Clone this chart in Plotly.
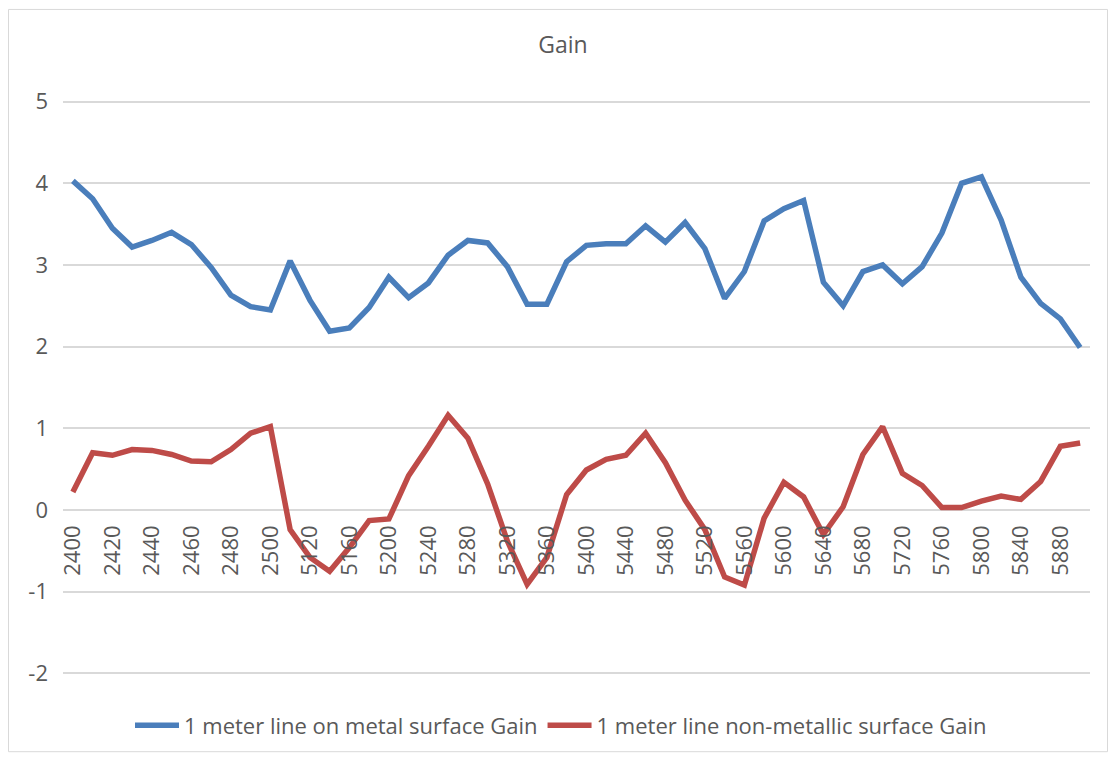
import plotly.graph_objects as go

categories = ["2400", "2410", "2420", "2430", "2440", "2450", "2460", "2470", "2480", "2490", "2500",
              "5100", "5120", "5140", "5160", "5180", "5200", "5220", "5240", "5260", "5280",
              "5300", "5320", "5340", "5360", "5380", "5400", "5420", "5440", "5460", "5480",
              "5500", "5520", "5540", "5560", "5580", "5600", "5620", "5640", "5660", "5680",
              "5700", "5720", "5740", "5760", "5780", "5800", "5820", "5840", "5860", "5880", "5900"]

metal_gain = [4.03, 3.81, 3.45, 3.22, 3.30, 3.40, 3.25, 2.97, 2.63, 2.49, 2.45,
              3.05, 2.57, 2.19, 2.23, 2.48, 2.85, 2.60, 2.78, 3.12, 3.30,
              3.27, 2.98, 2.52, 2.52, 3.04, 3.24, 3.26, 3.26, 3.48, 3.28,
              3.52, 3.20, 2.59, 2.92, 3.54, 3.69, 3.79, 2.79, 2.50, 2.92,
              3.00, 2.77, 2.98, 3.39, 4.00, 4.08, 3.55, 2.85, 2.53, 2.34, 1.99]

nonmetal_gain = [0.22, 0.70, 0.67, 0.74, 0.73, 0.68, 0.60, 0.59, 0.74, 0.94, 1.02,
                 -0.24, -0.58, -0.75, -0.46, -0.13, -0.11, 0.42, 0.78, 1.16, 0.88,
                 0.32, -0.38, -0.91, -0.58, 0.19, 0.49, 0.62, 0.67, 0.94, 0.58,
                 0.12, -0.24, -0.82, -0.92, -0.10, 0.34, 0.16, -0.30, 0.04, 0.68,
                 1.02, 0.45, 0.30, 0.03, 0.03, 0.11, 0.17, 0.13, 0.35, 0.78, 0.82]

x_tick_labels = categories[::2]
y_tick_values = [-2, -1, 0, 1, 2, 3, 4, 5]
y_tick_labels = ["-2", "-1", "0", "1", "2", "3", "4", "5"]

FONT = "Open Sans"
TEXT = "#595959"
GRID = "#D9D9D9"

W, H = 1100, 751
L, T = 55, 92
PW, PH = 1027, 581
R = W - L - PW
B = H - T - PH

Y0, Y1 = -2.02, 5.02

fig = go.Figure()
fig.add_trace(go.Scatter(x=categories, y=metal_gain, mode="lines",
                         name="1 meter line on metal surface Gain",
                         line=dict(color="#4A7EBB", width=5.5)))
fig.add_trace(go.Scatter(x=categories, y=nonmetal_gain, mode="lines",
                         name="1 meter line non-metallic surface Gain",
                         line=dict(color="#BE4B48", width=5.5)))

fig.update_layout(
    width=W, height=H,
    margin=dict(l=L, r=R, t=T, b=B, pad=0),
    paper_bgcolor="white", plot_bgcolor="white",
    font=dict(family=FONT, color=TEXT, size=21),
    title=dict(text="Gain", x=(563 - 8) / W, xref="container", xanchor="center",
               y=1 - 37 / H, yref="container", yanchor="middle",
               font=dict(family=FONT, size=23, color=TEXT)),
    showlegend=True,
    legend=dict(orientation="h", x=(561 - 8 - L) / PW, xanchor="center",
                y=(T + PH - 724) / PH, yanchor="middle",
                font=dict(family=FONT, size=22, color=TEXT),
                itemwidth=44, traceorder="normal"),
    xaxis=dict(type="category", categoryorder="array", categoryarray=categories,
               range=[-0.5, len(categories) - 0.5],
               tickmode="array", tickvals=x_tick_labels, ticktext=x_tick_labels,
               tickangle=-90, showgrid=False, showline=False, ticks="",
               anchor="free", position=(0 - Y0) / (Y1 - Y0), zeroline=False,
               ticklabelstandoff=10,
               tickfont=dict(family=FONT, size=22, color=TEXT)),
    yaxis=dict(range=[Y0, Y1], tickmode="array", tickvals=y_tick_values, ticktext=y_tick_labels,
               showgrid=True, gridcolor=GRID, gridwidth=1.5,
               zeroline=True, zerolinecolor=GRID, zerolinewidth=1.5, showline=False,
               ticks="", ticklabelstandoff=14,
               tickfont=dict(family=FONT, size=22, color=TEXT)),
    shapes=[dict(type="rect", xref="paper", yref="paper",
                 x0=(0.5 - L) / PW, x1=(W - 0.5 - L) / PW,
                 y0=(T + PH - (H - 0.5)) / PH, y1=(T + PH - 0.5) / PH,
                 line=dict(color="#D9D9D9", width=1), fillcolor="rgba(0,0,0,0)", layer="below")],
)

fig.write_html("out.html")
